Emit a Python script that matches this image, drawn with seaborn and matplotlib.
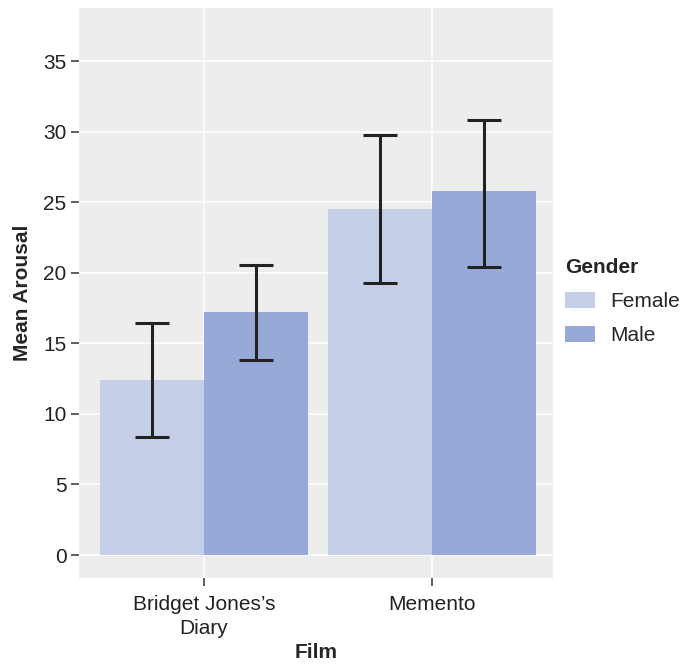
import matplotlib.pyplot as plt
import pandas as pd
import seaborn as sns

films = ["Bridget Jones\u2019s\nDiary", "Memento"]
genders = ["Female", "Male"]
mean_arousal = [[12.4, 17.2], [24.5, 25.8]]   # [film][gender]
ci_low = [[8.35, 13.8], [19.3, 20.4]]
ci_high = [[16.45, 20.55], [29.8, 30.8]]

rows = []
for i, film in enumerate(films):
    for j, g in enumerate(genders):
        rows.append({"Film": film, "Gender": g, "Arousal": mean_arousal[i][j],
                     "lo": ci_low[i][j], "hi": ci_high[i][j]})
df = pd.DataFrame(rows)

sns.set_theme(style="darkgrid", rc={
    "axes.facecolor": "#EDEDED",
    "grid.color": "white",
    "grid.linewidth": 1.1,
    "xtick.bottom": True,
    "ytick.left": True,
})
plt.rcParams["font.family"] = ["Liberation Sans", "DejaVu Sans"]

fig = plt.figure(figsize=(6.84, 6.64), dpi=100)
ax = fig.add_axes([0.1155, 0.1295, 0.693, 0.8585])

palette = {"Female": "#C5CFE8", "Male": "#97AAD7"}
sns.barplot(data=df, x="Film", y="Arousal", hue="Gender", order=films,
            hue_order=genders, palette=palette, errorbar=None,
            width=0.912, gap=0, saturation=1, linewidth=0, ax=ax)

# error bars at the centre of each bar
for j, g in enumerate(genders):
    cont = ax.containers[j]
    sub = df[df["Gender"] == g].set_index("Film").loc[films]
    xs = [p.get_x() + p.get_width() / 2 for p in cont.patches]
    yerr = [sub["Arousal"] - sub["lo"], sub["hi"] - sub["Arousal"]]
    ax.errorbar(xs, sub["Arousal"], yerr=yerr, fmt="none",
                ecolor="#222222", elinewidth=2.2, capsize=12.5, capthick=2.2,
                zorder=5)

ax.set_xlim(-0.548, 1.531)
ax.set_ylim(-1.63, 38.77)
ax.set_yticks(range(0, 40, 5))
ax.grid(True, axis="both")
for s in ax.spines.values():
    s.set_visible(False)

ax.tick_params(axis="both", which="major", length=6, width=1.1, color="#333333",
               labelsize=15, labelcolor="#222222", pad=3)
ax.tick_params(axis="x", pad=6)
for t in ax.get_xticklabels():
    t.set_linespacing(1.35)
ax.set_xlabel("Film", fontsize=15, fontweight="bold", labelpad=4)
ax.set_ylabel("Mean Arousal", fontsize=15, fontweight="bold", labelpad=8)

handles, labels = ax.get_legend_handles_labels()
ax.legend_.remove()
leg = fig.legend(handles, labels, title="Gender", loc="upper left",
                 bbox_to_anchor=(0.826, 0.612), frameon=False, fontsize=15,
                 title_fontproperties={"weight": "bold", "size": 15},
                 handlelength=1.45, handleheight=0.82, labelspacing=0.72,
                 handletextpad=0.72, borderaxespad=0, borderpad=0)
leg._legend_box.align = "left"

fig.savefig("out.png", dpi=100)
